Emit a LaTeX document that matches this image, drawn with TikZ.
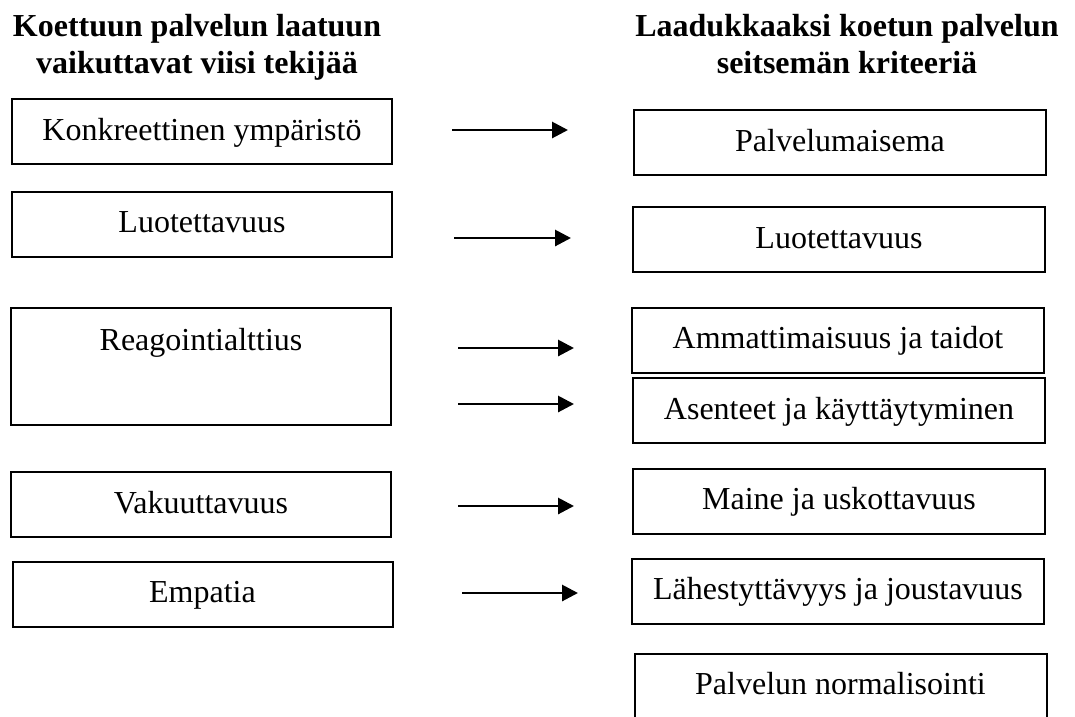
\documentclass[tikz,border=0pt]{standalone}
\usepackage{fontspec}
\setmainfont{Liberation Serif}
\usepackage{tikz}
\usepackage{xcolor}
\usetikzlibrary{arrows.meta}

\begin{document}
\begin{tikzpicture}[x=1pt, y=-1pt,
	font=\fontsize{32}{37}\selectfont,
	head/.style={align=center, font=\fontsize{32}{37}\selectfont\bfseries},
	lbox/.style={draw, line width=2pt, inner sep=0pt,
		minimum width=380pt, minimum height=65pt,
		text height=23pt, text depth=6pt},
	rbox/.style={lbox, minimum width=412pt},
	arr/.style={line width=2.9pt, -{Triangle[length=16pt, width=16pt]}}]
					%\draw[help lines] (0,0) grid (1075,716);
					\useasboundingbox (0,0) rectangle (1075,716);
					
					\node[head, anchor=base] (hleft) at (197,73) {Koettuun palvelun laatuun\\vaikuttavat viisi tekijää};
					\node[head, anchor=base] (hright) at (847,73) {Laadukkaaksi koetun palvelun\\seitsemän kriteeriä};
					
					\node[lbox] (konkr) at (202,131.5) {Konkreettinen ympäristö};
					\node[lbox] (luotL) at (202,224) {Luotettavuus};
					\node[lbox, minimum height=117pt, text depth=56pt] (reag) at (201,366.5) {Reagointialttius};
					\node[lbox] (vak) at (201,504.5) {Vakuuttavuus};
					\node[lbox] (emp) at (202.5,594) {Empatia};
					
					\node[rbox] (palvm) at (840,142.5) {Palvelumaisema};
					\node[rbox] (luotR) at (839,239.5) {Luotettavuus};
					\node[rbox] (ammat) at (838,340) {Ammattimaisuus ja taidot};
					\node[rbox] (asent) at (839,410.5) {Asenteet ja käyttäytyminen};
					\node[rbox] (maine) at (839,501) {Maine ja uskottavuus};
					\node[rbox] (lahes) at (838,591) {Lähestyttävyys ja joustavuus};
					\node[rbox] (norm) at (840.5,686) {Palvelun normalisointi};
					
					\foreach \n/\xa/\xb/\y in {1/452/568/130, 2/454/571/238, 3/458/574/348, 4/458/574/404, 5/458/574/506, 6/462/578/593}{
						\coordinate (a\n) at (\xa,\y);
						\coordinate (b\n) at (\xb,\y);
						\draw[arr] (a\n) -- (b\n);};
				\end{tikzpicture}
\end{document}
